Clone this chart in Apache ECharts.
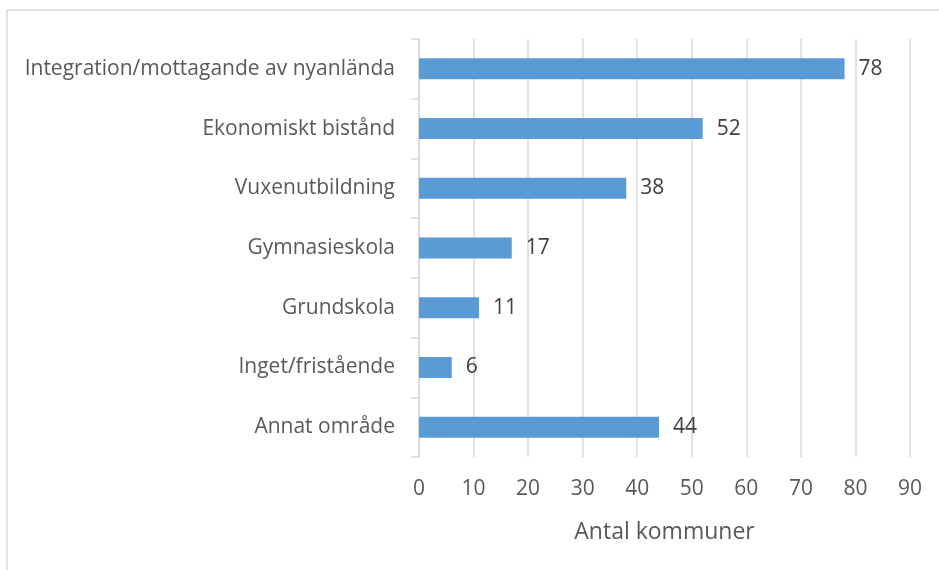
<!DOCTYPE html>
<html>
<head>
<meta charset="utf-8">
<script src="https://cdn.jsdelivr.net/npm/echarts@6/dist/echarts.min.js"></script>
<style>
  html, body { margin: 0; padding: 0; background: #fff; }
  #main { width: 939px; height: 570px; }
</style>
</head>
<body>
<div id="main"></div>
<script>
// categories listed top to bottom
const categories = [
    'Integration/mottagande av nyanlända',
    'Ekonomiskt bistånd',
    'Vuxenutbildning',
    'Gymnasieskola',
    'Grundskola',
    'Inget/fristående',
    'Annat område'
];
const values = [78, 52, 38, 17, 11, 6, 44];
const axisName = 'Antal kommuner';

const chart = echarts.init(document.getElementById('main'));

const textColor = '#595959';
const font = '"Open Sans", sans-serif';

const option = {
    animation: false,
    graphic: [{
        type: 'rect',
        shape: { x: 7, y: 10, width: 960, height: 600 },
        style: { fill: 'none', stroke: '#d9d9d9', lineWidth: 1.5 },
        silent: true
    }],
    grid: {
        left: 419,
        right: 29,
        top: 39,
        bottom: 113
    },
    xAxis: {
        type: 'value',
        min: 0,
        max: 90,
        interval: 10,
        name: axisName,
        nameLocation: 'middle',
        nameGap: 64,
        nameTextStyle: { color: textColor, fontSize: 23, fontFamily: font },
        axisLine: { show: false },
        axisTick: { show: false },
        axisLabel: { color: textColor, fontSize: 21, fontFamily: font, margin: 22 },
        splitLine: { lineStyle: { color: '#d9d9d9', width: 1.5 } }
    },
    yAxis: {
        type: 'category',
        inverse: true,
        data: categories,
        axisLine: { show: true, lineStyle: { color: '#d9d9d9', width: 1.5 } },
        axisTick: { show: true, length: 8, lineStyle: { color: '#d9d9d9', width: 1.5 } },
        axisLabel: { color: textColor, fontSize: 21, fontFamily: font, margin: 24 }
    },
    series: [{
        type: 'bar',
        data: values,
        barWidth: 21,
        itemStyle: { color: '#5b9bd5' },
        label: {
            show: true,
            position: 'right',
            distance: 14,
            color: '#404040',
            fontSize: 21,
            fontFamily: font
        }
    }]
};

chart.setOption(option);
</script>
</body>
</html>
